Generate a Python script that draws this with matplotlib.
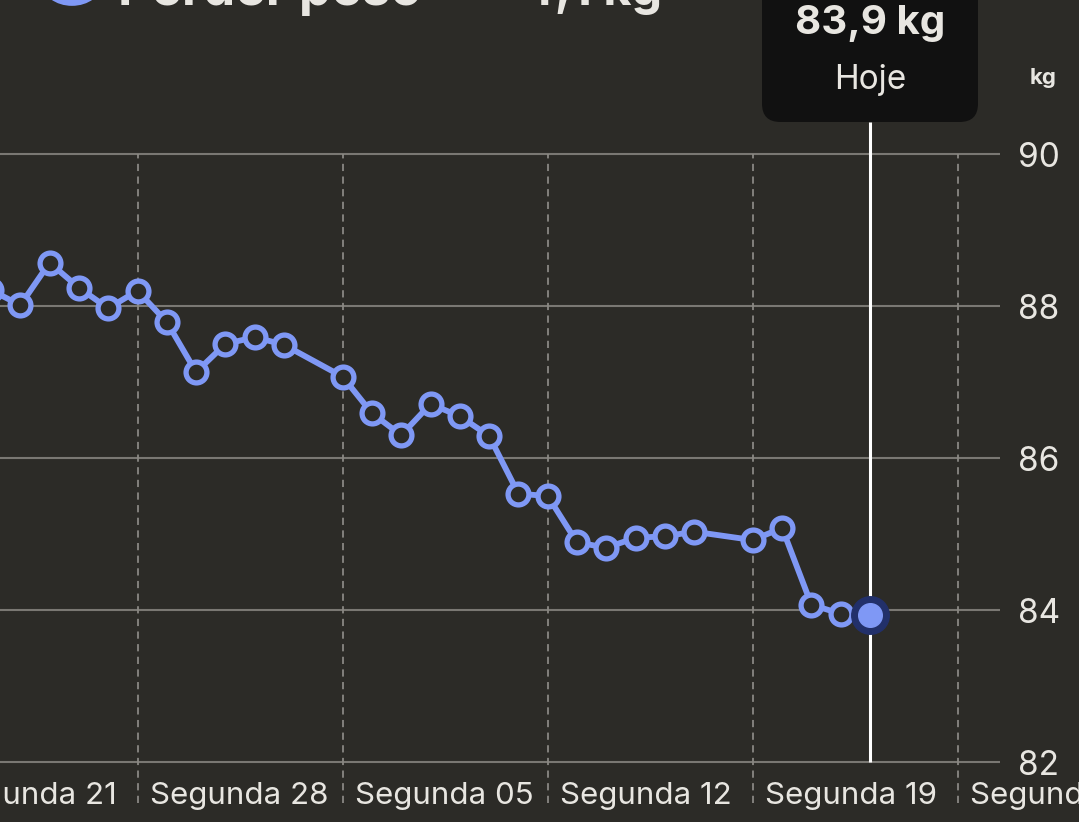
import pandas as pd
import matplotlib
matplotlib.use('Agg')
import matplotlib.pyplot as plt
from matplotlib.patches import FancyBboxPatch, Circle

plt.rcParams['font.family'] = ['Inter', 'DejaVu Sans']

# weight readings (kg), one per day; May 4 and May 18 have no entry
dates = ['2025-04-23', '2025-04-24', '2025-04-25', '2025-04-26', '2025-04-27',
         '2025-04-28', '2025-04-29', '2025-04-30', '2025-05-01', '2025-05-02',
         '2025-05-03',
         '2025-05-05', '2025-05-06', '2025-05-07', '2025-05-08', '2025-05-09',
         '2025-05-10', '2025-05-11', '2025-05-12', '2025-05-13', '2025-05-14',
         '2025-05-15', '2025-05-16', '2025-05-17',
         '2025-05-19', '2025-05-20', '2025-05-21', '2025-05-22', '2025-05-23']
weights = [88.21, 88.01, 88.57, 88.24, 87.97, 88.20, 87.79, 87.13, 87.50, 87.59,
           87.49,
           87.07, 86.59, 86.30, 86.71, 86.55, 86.29, 85.53, 85.50, 84.89, 84.82,
           84.95, 84.97, 85.03,
           84.92, 85.08, 84.07, 83.95, 83.93]

mondays = ['2025-04-21', '2025-04-28', '2025-05-05', '2025-05-12', '2025-05-19', '2025-05-26']
week_labels = ['Segunda 21', 'Segunda 28', 'Segunda 05', 'Segunda 12', 'Segunda 19', 'Segunda 26']
y_ticks = [82, 84, 86, 88, 90]

today = '2025-05-23'
today_text = '83,9 kg'
goal_text = 'Perder peso'
goal_value = '4,1 kg'

x = pd.to_datetime(dates)
mon = pd.to_datetime(mondays)
t = pd.Timestamp(today)

bg = '#2c2b27'
blue = '#7f98f5'
txt = '#e8e6e1'

W, H = 1079, 822
fig = plt.figure(figsize=(W / 100, H / 100), dpi=100, facecolor=bg)
ax = fig.add_axes([0, 0, 1000 / W, 1])
ax.set_facecolor(bg)
for s in ax.spines.values():
    s.set_visible(False)

# scale: 90 at y=154 px, 82 at y=762 px (76 px per kg)
ax.set_ylim(82 - 60 / 76, 90 + 154 / 76)
ref = pd.Timestamp('2025-04-28')
ax.set_xlim(ref - pd.Timedelta(days=137.5 / 29.3), ref + pd.Timedelta(days=862.5 / 29.3))

# horizontal grid
for v in y_ticks:
    ax.axhline(v, color='#7a7873', lw=1.5, zorder=1)
ax.set_xticks([])
ax.yaxis.tick_right()
ax.set_yticks(y_ticks)
ax.set_yticklabels([str(v) for v in y_ticks])
ax.tick_params(axis='y', length=0, pad=13, labelsize=24, labelcolor=txt)

# weekly dashed lines + labels
ax.vlines(mon, 82 - 41 / 76, 90, colors='#8a8883', linestyles=(0, (4, 3)), lw=1.3, zorder=1)
for d, lab in zip(mon, week_labels):
    ax.text(d + pd.Timedelta(hours=10), 82 - 42 / 76, lab, color=txt, fontsize=22.5,
            ha='left', va='baseline', clip_on=False)

# today line
ax.vlines([t], 82, 90 + 32 / 76, colors='white', lw=2.2, zorder=2)

# series
ax.plot(x, weights, color=blue, lw=4.2, marker='o', markersize=15,
        markerfacecolor=bg, markeredgecolor=blue, markeredgewidth=3.8, zorder=3)
ax.plot([t], [weights[-1]], 'o', markersize=27, color='#22306a', zorder=4)
ax.plot([t], [weights[-1]], 'o', markersize=17, color=blue, zorder=5)

# tooltip box (figure pixel coords)
def fx(px):
    return px / W

def fy(py):
    return 1 - py / H

box = FancyBboxPatch((fx(762), fy(122)), fx(978) - fx(762), fy(-30) - fy(122),
                     boxstyle='round,pad=0,rounding_size=0.017', transform=fig.transFigure,
                     facecolor='#111111', edgecolor='none', mutation_aspect=W / H)
fig.patches.append(box)
fig.text(fx(870), fy(24), today_text, color=txt, fontsize=29, fontweight='bold',
         ha='center', va='center')
fig.text(fx(870), fy(80), 'Hoje', color=txt, fontsize=24, ha='center', va='center')
fig.text(fx(1043), fy(78), 'kg', color=txt, fontsize=16, fontweight='bold',
         ha='center', va='center')

# cut-off header at the top
fig.patches.append(Circle((fx(72), fy(-17)), 30 / W, transform=fig.transFigure,
                          facecolor=blue, edgecolor='none'))
fig.text(fx(118), fy(5), goal_text, color=txt, fontsize=37, fontweight='bold',
         ha='left', va='baseline')
fig.text(fx(522), fy(5), goal_value, color=txt, fontsize=35, fontweight='bold',
         ha='left', va='baseline')

fig.savefig('out.png', dpi=100, facecolor=bg)
